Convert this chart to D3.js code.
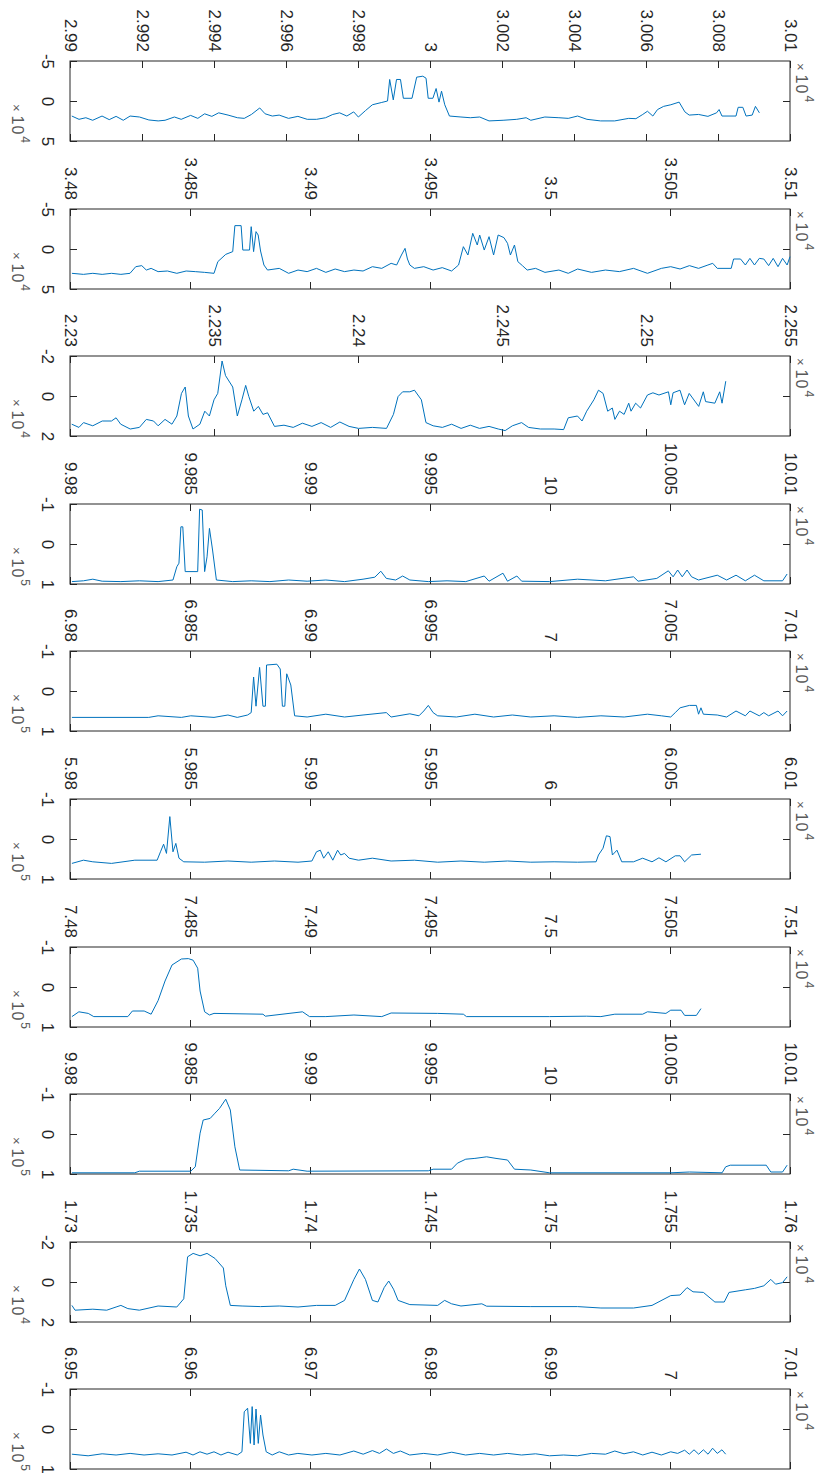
<!DOCTYPE html>
<html>
<head>
<meta charset="utf-8">
<script src="https://cdn.jsdelivr.net/npm/d3@7"></script>
<style>
  body { margin: 0; background: #fff; }
  svg { display: block; font-family: "Liberation Sans", Arial, sans-serif; }
</style>
</head>
<body>
<div id="chart"></div>
<script>
// x range of each panel (in units of 10^4)
var xDomains = [[2.99, 3.01], [3.48, 3.51], [2.23, 2.255], [9.98, 10.01], [6.98, 7.01],
  [5.98, 6.01], [7.48, 7.51], [9.98, 10.01], [1.73, 1.76], [6.95, 7.01]]

var xTickLabels = [
  ['2.99', '2.992', '2.994', '2.996', '2.998', '3', '3.002', '3.004', '3.006', '3.008', '3.01'],
  ['3.48', '3.485', '3.49', '3.495', '3.5', '3.505', '3.51'],
  ['2.23', '2.235', '2.24', '2.245', '2.25', '2.255'],
  ['9.98', '9.985', '9.99', '9.995', '10', '10.005', '10.01'],
  ['6.98', '6.985', '6.99', '6.995', '7', '7.005', '7.01'],
  ['5.98', '5.985', '5.99', '5.995', '6', '6.005', '6.01'],
  ['7.48', '7.485', '7.49', '7.495', '7.5', '7.505', '7.51'],
  ['9.98', '9.985', '9.99', '9.995', '10', '10.005', '10.01'],
  ['1.73', '1.735', '1.74', '1.745', '1.75', '1.755', '1.76'],
  ['6.95', '6.96', '6.97', '6.98', '6.99', '7', '7.01']
]

// y limits (symmetric) and exponent of the amplitude axis
var yLims = [5, 5, 2, 1, 1, 1, 1, 1, 2, 1]
var yExps = [4, 4, 4, 5, 5, 5, 5, 5, 4, 5]
var xExps = [4, 4, 4, 4, 4, 4, 4, 4, 4, 4]

// traces: [x, value]
var s1 = [[2.99005,1.88],[2.99025,2.29],[2.99044,2.09],[2.99063,2.41],[2.99089,1.88],[2.99109,2.33],[2.99128,1.92],[2.99148,2.41],[2.99167,1.88],[2.99193,2.0],[2.99219,2.37],[2.99245,2.49],[2.99264,2.41],[2.9929,2.0],[2.99309,2.29],[2.99335,1.8],[2.99355,2.17],[2.99374,1.6],[2.99394,1.92],[2.99413,1.48],[2.99439,1.76],[2.99465,2.09],[2.99484,2.17],[2.99504,1.68],[2.99527,0.87],[2.99542,1.6],[2.99562,1.88],[2.99581,1.76],[2.99607,2.17],[2.99633,1.92],[2.99659,2.29],[2.99685,2.29],[2.9971,2.09],[2.9973,1.68],[2.99749,1.48],[2.99769,1.88],[2.99788,1.36],[2.99801,2.0],[2.99821,1.19],[2.9984,0.47],[2.99866,0.18],[2.99882,0.0],[2.99888,-2.69],[2.99898,-0.14],[2.99907,-2.69],[2.99918,-2.69],[2.99926,-0.34],[2.9995,-0.34],[2.99963,-2.98],[2.9998,-3.1],[2.99989,-2.85],[2.99995,-0.34],[3.00008,-0.34],[3.00017,-1.56],[3.00025,0.14],[3.00032,-1.23],[3.00041,0.47],[3.00054,1.88],[3.00086,2.0],[3.00112,2.09],[3.00138,2.0],[3.00164,2.49],[3.00203,2.41],[3.00241,2.29],[3.00267,2.09],[3.0028,2.41],[3.00319,2.0],[3.00358,2.09],[3.00384,2.17],[3.0041,1.88],[3.00436,2.29],[3.00474,2.49],[3.00513,2.49],[3.00552,2.17],[3.00572,2.21],[3.00591,1.68],[3.00604,1.28],[3.00619,1.88],[3.00632,1.07],[3.00649,0.67],[3.00669,0.47],[3.00692,0.14],[3.00708,1.36],[3.0072,1.76],[3.00746,1.68],[3.00772,1.92],[3.00796,1.48],[3.00803,1.07],[3.00811,1.88],[3.0085,1.88],[3.00856,0.79],[3.00869,0.79],[3.00878,1.88],[3.00895,1.76],[3.00904,0.67],[3.00915,1.48]]

var s2 = [[3.48008,3.04],[3.48056,3.17],[3.48095,3.04],[3.48134,3.17],[3.48173,3.04],[3.48212,3.17],[3.4825,3.04],[3.48274,2.21],[3.48299,2.08],[3.48318,2.63],[3.48338,2.42],[3.48367,2.83],[3.48406,2.75],[3.48445,3.04],[3.48484,2.75],[3.48522,2.83],[3.48561,2.92],[3.486,3.04],[3.48616,1.58],[3.48649,0.67],[3.48678,0.33],[3.48687,-2.92],[3.48713,-2.92],[3.4872,0.13],[3.48748,0.13],[3.48755,-2.79],[3.48765,0.33],[3.48775,-2.17],[3.48784,-1.75],[3.48794,0.25],[3.48808,2.0],[3.48823,2.63],[3.48872,2.42],[3.48911,3.04],[3.4895,2.63],[3.48988,2.83],[3.49027,2.42],[3.49066,2.92],[3.49105,2.5],[3.49144,2.83],[3.49183,2.63],[3.49221,2.75],[3.4926,2.21],[3.49299,2.42],[3.49338,1.79],[3.49361,2.0],[3.49381,0.75],[3.49396,-0.08],[3.49406,1.25],[3.49416,2.0],[3.49435,2.42],[3.49474,2.21],[3.49513,2.63],[3.49551,2.33],[3.4959,2.75],[3.49619,2.0],[3.49639,-0.29],[3.49658,0.75],[3.49678,-1.96],[3.49697,-0.5],[3.49707,-1.75],[3.49726,0.13],[3.49746,-1.54],[3.49765,0.75],[3.49784,-1.75],[3.49808,-1.42],[3.49823,-0.71],[3.49835,0.75],[3.49852,-0.5],[3.49866,1.58],[3.49885,2.08],[3.49905,2.63],[3.4994,2.42],[3.49979,2.92],[3.50037,2.63],[3.50076,3.04],[3.50115,2.5],[3.50173,2.92],[3.50231,2.63],[3.50289,2.83],[3.50348,2.42],[3.50406,3.04],[3.50464,2.42],[3.50503,2.21],[3.50542,2.5],[3.50581,2.08],[3.50619,2.42],[3.50658,2.0],[3.50678,1.79],[3.50697,2.42],[3.50755,2.42],[3.50765,1.25],[3.50794,1.25],[3.50814,2.0],[3.50833,1.17],[3.50852,2.0],[3.50872,1.17],[3.50891,1.25],[3.50911,2.08],[3.5093,1.17],[3.5095,2.21],[3.50969,1.17],[3.50988,2.0],[3.51,0.96]]

var s3 = [[2.23006,1.41],[2.23031,1.57],[2.23047,1.33],[2.23079,1.49],[2.23112,1.25],[2.23144,1.25],[2.2316,1.09],[2.23176,1.41],[2.23209,1.65],[2.23241,1.57],[2.23265,1.17],[2.2329,1.25],[2.23306,1.49],[2.2333,1.17],[2.23354,1.41],[2.23371,1.0],[2.23387,-0.13],[2.234,-0.45],[2.23411,1.0],[2.23427,1.65],[2.23451,1.41],[2.23468,0.76],[2.23484,1.0],[2.235,0.19],[2.23513,-0.13],[2.23528,-1.75],[2.2354,-1.02],[2.23565,-0.45],[2.23581,1.0],[2.23597,0.19],[2.2361,-0.53],[2.23621,0.03],[2.23638,0.76],[2.23654,0.52],[2.2367,0.92],[2.23686,0.84],[2.2371,1.52],[2.23743,1.46],[2.23775,1.57],[2.23807,1.36],[2.2384,1.52],[2.23872,1.33],[2.23905,1.57],[2.23937,1.3],[2.23969,1.52],[2.24002,1.62],[2.2405,1.57],[2.24099,1.62],[2.24123,0.92],[2.24139,0.03],[2.24155,-0.21],[2.2418,-0.21],[2.24196,-0.29],[2.2422,0.19],[2.24236,1.33],[2.24261,1.49],[2.24293,1.57],[2.24325,1.41],[2.24358,1.62],[2.2439,1.46],[2.24422,1.62],[2.24455,1.52],[2.24487,1.65],[2.24511,1.73],[2.24536,1.49],[2.24568,1.33],[2.24592,1.57],[2.24633,1.65],[2.24681,1.65],[2.24714,1.68],[2.2473,1.09],[2.24762,1.0],[2.24778,1.25],[2.24794,0.76],[2.24819,0.19],[2.24835,-0.29],[2.24851,-0.13],[2.24867,0.76],[2.24883,0.6],[2.24892,1.17],[2.24908,0.76],[2.24924,0.92],[2.2494,0.36],[2.24948,0.76],[2.24964,0.36],[2.24981,0.6],[2.25005,-0.05],[2.25024,-0.16],[2.25045,-0.05],[2.25078,-0.21],[2.25086,0.44],[2.25094,-0.16],[2.25118,-0.29],[2.25134,0.44],[2.2515,-0.13],[2.25183,0.52],[2.25199,-0.21],[2.25207,0.28],[2.25239,0.36],[2.25256,-0.21],[2.25264,0.36],[2.25277,-0.74]]

var s4 = [[9.98008,0.94],[9.98056,0.92],[9.98095,0.88],[9.98134,0.93],[9.98212,0.94],[9.98289,0.92],[9.98367,0.94],[9.98429,0.9],[9.98445,0.57],[9.98454,0.48],[9.98462,-0.43],[9.9847,-0.43],[9.9848,0.69],[9.98532,0.69],[9.9854,-0.87],[9.98551,-0.85],[9.98561,0.69],[9.98571,0.32],[9.98581,-0.39],[9.98594,0.15],[9.9861,0.9],[9.98678,0.94],[9.98755,0.92],[9.98833,0.94],[9.98911,0.9],[9.98988,0.93],[9.99066,0.9],[9.99144,0.94],[9.99221,0.88],[9.9927,0.83],[9.99295,0.68],[9.99318,0.86],[9.99357,0.9],[9.99386,0.8],[9.99416,0.9],[9.99493,0.94],[9.99571,0.92],[9.99649,0.94],[9.99726,0.8],[9.99746,0.93],[9.99804,0.73],[9.99823,0.93],[9.99862,0.8],[9.99882,0.93],[9.99998,0.94],[10.00115,0.88],[10.00231,0.92],[10.00348,0.82],[10.00367,0.93],[10.00445,0.86],[10.00493,0.67],[10.00513,0.82],[10.00532,0.65],[10.00551,0.82],[10.00571,0.65],[10.0059,0.82],[10.00619,0.9],[10.00697,0.78],[10.00736,0.9],[10.00775,0.78],[10.00814,0.92],[10.00852,0.78],[10.00891,0.92],[10.00969,0.92],[10.00988,0.75]]

var s5 = [[6.98008,0.66],[6.98328,0.66],[6.98367,0.62],[6.98464,0.66],[6.98503,0.62],[6.986,0.66],[6.98658,0.6],[6.98697,0.66],[6.9874,0.6],[6.98755,0.54],[6.98765,-0.35],[6.98775,0.38],[6.9879,-0.59],[6.98804,0.38],[6.98814,0.38],[6.98819,-0.65],[6.98862,-0.67],[6.98876,-0.55],[6.98885,0.38],[6.98895,0.38],[6.98903,-0.43],[6.9892,-0.15],[6.98936,0.62],[6.98988,0.65],[6.99066,0.58],[6.99144,0.65],[6.99221,0.6],[6.99318,0.54],[6.99338,0.65],[6.99416,0.57],[6.99454,0.62],[6.99474,0.5],[6.99493,0.36],[6.99513,0.54],[6.99532,0.62],[6.9961,0.65],[6.99687,0.58],[6.99765,0.65],[6.99843,0.6],[6.9992,0.65],[7.00017,0.62],[7.00115,0.66],[7.00212,0.62],[7.00309,0.65],[7.00406,0.58],[7.00464,0.62],[7.00503,0.65],[7.00522,0.54],[7.00542,0.42],[7.00581,0.36],[7.0061,0.36],[7.00619,0.58],[7.00629,0.42],[7.00639,0.58],[7.00697,0.6],[7.00736,0.65],[7.00775,0.5],[7.00814,0.62],[7.00833,0.5],[7.00872,0.62],[7.00891,0.54],[7.00911,0.62],[7.0095,0.5],[7.00969,0.62],[7.00988,0.5]]

var s6 = [[5.98008,0.61],[5.98056,0.53],[5.98095,0.57],[5.98173,0.61],[5.9827,0.53],[5.98363,0.53],[5.98377,0.32],[5.9839,0.13],[5.98402,0.36],[5.98416,-0.56],[5.98429,0.32],[5.98441,0.11],[5.98454,0.48],[5.98474,0.57],[5.98561,0.58],[5.98658,0.55],[5.98755,0.58],[5.98852,0.55],[5.9895,0.58],[5.99008,0.55],[5.99027,0.32],[5.99043,0.28],[5.99057,0.48],[5.99076,0.32],[5.99095,0.53],[5.99115,0.28],[5.99128,0.4],[5.99144,0.36],[5.99163,0.48],[5.99202,0.53],[5.9926,0.48],[5.99338,0.55],[5.99435,0.53],[5.99532,0.58],[5.99629,0.55],[5.99726,0.58],[5.99823,0.55],[5.9992,0.58],[6.00017,0.57],[6.00115,0.58],[6.00192,0.57],[6.00202,0.4],[6.00221,0.23],[6.00235,-0.08],[6.0025,-0.06],[6.0026,0.4],[6.00279,0.28],[6.00299,0.57],[6.00348,0.57],[6.00386,0.48],[6.00425,0.57],[6.00454,0.47],[6.00483,0.57],[6.00522,0.42],[6.00542,0.42],[6.00561,0.57],[6.0059,0.4],[6.00629,0.38]]

var s7 = [[7.48008,0.74],[7.48037,0.62],[7.48076,0.66],[7.48099,0.74],[7.48241,0.74],[7.4826,0.6],[7.48309,0.6],[7.48338,0.68],[7.48367,0.34],[7.48396,-0.15],[7.48425,-0.55],[7.48464,-0.7],[7.48493,-0.71],[7.48513,-0.67],[7.48532,-0.47],[7.48542,0.1],[7.48561,0.62],[7.48581,0.7],[7.486,0.66],[7.48804,0.68],[7.48814,0.73],[7.48969,0.62],[7.48998,0.74],[7.49066,0.74],[7.49183,0.7],[7.49299,0.74],[7.49338,0.65],[7.49532,0.66],[7.49639,0.68],[7.49652,0.74],[7.49998,0.74],[7.50153,0.73],[7.50212,0.74],[7.5027,0.68],[7.50386,0.68],[7.50406,0.62],[7.50483,0.66],[7.50503,0.58],[7.50546,0.58],[7.50561,0.71],[7.5061,0.71],[7.50629,0.54]]

var s8 = [[9.98008,0.97],[9.9827,0.97],[9.98289,0.93],[9.98503,0.93],[9.98522,0.82],[9.98542,-0.02],[9.98555,-0.35],[9.98584,-0.39],[9.98604,-0.52],[9.98623,-0.64],[9.98649,-0.87],[9.98668,-0.6],[9.98687,0.32],[9.98707,0.9],[9.98911,0.92],[9.9893,0.88],[9.98988,0.93],[9.99493,0.92],[9.99513,0.88],[9.9959,0.88],[9.99614,0.73],[9.99649,0.63],[9.99687,0.61],[9.99736,0.57],[9.99775,0.61],[9.99823,0.65],[9.99852,0.88],[9.9992,0.9],[9.99998,0.97],[10.00503,0.97],[10.00581,0.95],[10.00717,0.97],[10.00732,0.82],[10.00751,0.78],[10.00901,0.78],[10.0092,0.95],[10.00969,0.95],[10.00988,0.78]]

var s9 = [[1.73008,1.17],[1.73021,1.41],[1.73095,1.36],[1.73153,1.41],[1.73192,1.25],[1.73212,1.17],[1.73241,1.33],[1.73289,1.41],[1.73367,1.2],[1.73445,1.25],[1.73474,0.84],[1.7349,-1.26],[1.73513,-1.43],[1.73542,-1.31],[1.73571,-1.43],[1.73604,-1.18],[1.73639,-0.7],[1.73649,0.19],[1.73668,1.17],[1.73717,1.2],[1.73794,1.23],[1.73872,1.2],[1.7395,1.25],[1.74027,1.17],[1.74105,1.17],[1.74144,0.92],[1.74183,-0.13],[1.74206,-0.65],[1.74231,-0.13],[1.7426,0.92],[1.74283,1.0],[1.74309,0.28],[1.74328,-0.05],[1.74348,0.36],[1.74367,0.92],[1.74416,1.13],[1.74532,1.17],[1.74561,0.92],[1.7459,1.09],[1.74629,1.2],[1.74716,1.09],[1.74736,1.21],[1.7492,1.23],[1.75115,1.23],[1.75212,1.3],[1.75348,1.3],[1.75425,1.17],[1.75503,0.68],[1.75542,0.65],[1.75571,0.28],[1.75596,0.49],[1.75639,0.52],[1.75687,1.0],[1.75726,1.0],[1.75746,0.52],[1.75814,0.39],[1.75852,0.32],[1.75891,0.19],[1.7592,-0.13],[1.7594,0.11],[1.75969,0.03],[1.75988,-0.26]]

var s10 = [[6.95016,0.63],[6.95151,0.67],[6.95268,0.62],[6.95384,0.65],[6.95501,0.61],[6.95617,0.65],[6.95734,0.62],[6.9585,0.65],[6.95967,0.58],[6.96025,0.65],[6.96083,0.57],[6.96142,0.63],[6.962,0.57],[6.96258,0.65],[6.96317,0.58],[6.96394,0.65],[6.96433,0.57],[6.96452,-0.43],[6.9648,-0.52],[6.96503,0.36],[6.96518,-0.56],[6.96534,0.4],[6.9655,-0.5],[6.96569,0.36],[6.96588,-0.35],[6.96608,0.15],[6.96635,0.57],[6.96685,0.65],[6.96744,0.57],[6.96821,0.65],[6.96899,0.61],[6.97016,0.65],[6.97132,0.61],[6.97249,0.65],[6.97365,0.55],[6.97443,0.63],[6.9752,0.54],[6.97579,0.61],[6.97637,0.5],[6.97695,0.61],[6.97753,0.55],[6.97831,0.65],[6.97948,0.61],[6.98064,0.65],[6.98181,0.58],[6.98297,0.65],[6.98414,0.61],[6.9853,0.65],[6.98647,0.61],[6.98763,0.65],[6.9888,0.62],[6.98996,0.67],[6.99113,0.65],[6.99229,0.67],[6.99346,0.61],[6.99462,0.63],[6.9954,0.55],[6.99617,0.62],[6.99695,0.57],[6.99773,0.65],[6.9985,0.58],[6.99928,0.65],[7.00006,0.57],[7.00064,0.61],[7.00122,0.53],[7.00161,0.63],[7.002,0.52],[7.00239,0.63],[7.00278,0.52],[7.00317,0.63],[7.00355,0.48],[7.00394,0.61],[7.00433,0.52],[7.00464,0.63]]

var series = [s1, s2, s3, s4, s5, s6, s7, s8, s9, s10]

var width = 817
var height = 1473
var left = 70
var plotW = 720
var plotH = 80
var firstTop = 61
var step = 147.6
var ink = '#262626'

var svg = d3
  .select('#chart')
  .append('svg')
  .attr('width', width)
  .attr('height', height)

svg.append('rect').attr('width', width).attr('height', height).attr('fill', '#fff')

// "× 10^n" label, written along the rotated direction
function expLabel(g, tx, ty, anchor, n) {
  var t = g
    .append('text')
    .attr('transform', 'translate(' + tx + ',' + ty + ') rotate(90)')
    .attr('text-anchor', anchor)
    .attr('fill', '#595959')
  t.append('tspan').style('font-size', '13px').text('×')
  t.append('tspan').attr('dx', 4).style('font-size', '16px').style('letter-spacing', '1px').text('10')
  t.append('tspan').attr('dy', '-0.75em').attr('dx', 1).style('font-size', '12px').text(n)
}

series.forEach(function(data, i) {
  var top = Math.round(firstTop + i * step)
  var g = svg.append('g').attr('transform', 'translate(' + left + ',' + top + ')')

  var x = d3.scaleLinear().domain(xDomains[i]).range([0, plotW])
  var y = d3.scaleLinear().domain([-yLims[i], yLims[i]]).range([0, plotH])

  var tickVals = xTickLabels[i].map(Number)

  // top axis with rotated labels
  var topAxis = g
    .append('g')
    .call(
      d3.axisTop(x)
        .tickValues(tickVals)
        .tickFormat(function(d, k) { return xTickLabels[i][k] })
        .tickSizeInner(-7)
        .tickSizeOuter(0)
    )
  topAxis.select('.domain').remove()
  topAxis.selectAll('line').attr('stroke', ink)
  topAxis
    .selectAll('text')
    .attr('transform', 'rotate(90)')
    .attr('x', -9)
    .attr('y', 0)
    .attr('dy', '0.35em')
    .attr('text-anchor', 'end')
    .attr('fill', ink)
    .style('font-size', '17px')
    .style('font-family', '"Liberation Sans", Arial, sans-serif')

  var bottomAxis = g
    .append('g')
    .attr('transform', 'translate(0,' + plotH + ')')
    .call(d3.axisBottom(x).tickValues(tickVals).tickFormat('').tickSizeInner(-7).tickSizeOuter(0))
  bottomAxis.select('.domain').remove()
  bottomAxis.selectAll('line').attr('stroke', ink)

  // left axis: -lim, 0, lim
  var leftAxis = g
    .append('g')
    .call(
      d3.axisLeft(y)
        .tickValues([-yLims[i], 0, yLims[i]])
        .tickFormat(function(d) { return d < 0 ? '-' + Math.abs(d) : String(d) })
        .tickSizeInner(-7)
        .tickSizeOuter(0)
    )
  leftAxis.select('.domain').remove()
  leftAxis.selectAll('line').attr('stroke', ink)
  leftAxis
    .selectAll('text')
    .attr('transform', 'rotate(90)')
    .attr('x', 0)
    .attr('y', 22)
    .attr('dy', '0.35em')
    .attr('text-anchor', 'middle')
    .attr('fill', ink)
    .style('font-size', '17px')
    .style('font-family', '"Liberation Sans", Arial, sans-serif')

  var rightAxis = g
    .append('g')
    .attr('transform', 'translate(' + plotW + ',0)')
    .call(d3.axisRight(y).tickValues([0]).tickFormat('').tickSizeInner(-7).tickSizeOuter(0))
  rightAxis.select('.domain').remove()
  rightAxis.selectAll('line').attr('stroke', ink)

  // box
  g.append('rect')
    .attr('width', plotW)
    .attr('height', plotH)
    .attr('fill', 'none')
    .attr('stroke', ink)
    .attr('stroke-width', 1)

  // trace
  var line = d3.line().x(function(d) { return x(d[0]) }).y(function(d) { return y(d[1]) })
  g.append('path')
    .datum(data)
    .attr('d', line)
    .attr('fill', 'none')
    .attr('stroke', '#0072BD')
    .attr('stroke-width', 1)
    .attr('stroke-linejoin', 'round')

  // exponent labels
  expLabel(g, -58, plotH + 2, 'end', yExps[i])
  expLabel(g, plotW + 6, 2, 'start', xExps[i])
})
</script>
</body>
</html>
